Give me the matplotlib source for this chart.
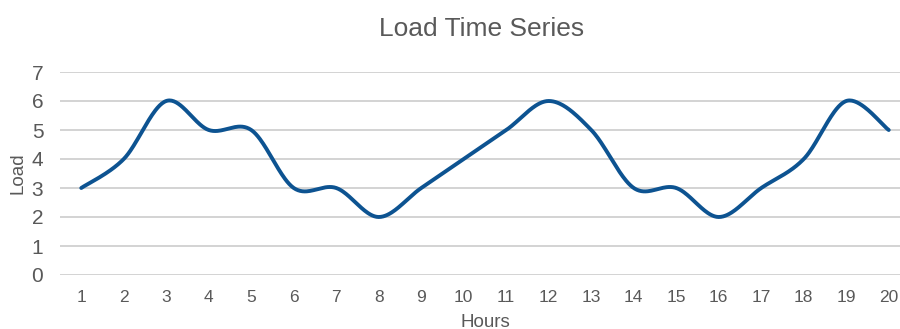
import numpy as np
import matplotlib
matplotlib.use("Agg")
import matplotlib.pyplot as plt

hours = list(range(1, 21))
load = [3, 4, 6, 5, 5, 3, 3, 2, 3, 4, 5, 6, 5, 3, 3, 2, 3, 4, 6, 5]
y_ticks = [0, 1, 2, 3, 4, 5, 6, 7]


def smooth_curve(x, y, steps=40):
    """Catmull-Rom style Bezier smoothing through every point."""
    x = np.asarray(x, float)
    y = np.asarray(y, float)
    px = np.concatenate([[x[0]], x, [x[-1]]])
    py = np.concatenate([[y[0]], y, [y[-1]]])
    xs, ys = [], []
    t = np.linspace(0, 1, steps)
    for i in range(1, len(px) - 2):
        p0 = np.array([px[i], py[i]])
        p3 = np.array([px[i + 1], py[i + 1]])
        c1 = p0 + (np.array([px[i + 1], py[i + 1]]) - np.array([px[i - 1], py[i - 1]])) / 6
        c2 = p3 - (np.array([px[i + 2], py[i + 2]]) - np.array([px[i], py[i]])) / 6
        b = ((1 - t) ** 3)[:, None] * p0 + (3 * (1 - t) ** 2 * t)[:, None] * c1 \
            + (3 * (1 - t) * t ** 2)[:, None] * c2 + (t ** 3)[:, None] * p3
        xs.append(b[:, 0])
        ys.append(b[:, 1])
    return np.concatenate(xs), np.concatenate(ys)


plt.rcParams['font.family'] = ['Liberation Sans', 'DejaVu Sans']
text_color = '#595959'

fig = plt.figure(figsize=(9.0, 3.29), dpi=100)
ax = fig.add_axes([60 / 900, 1 - 275 / 329, 850 / 900, 203 / 329])

sx, sy = smooth_curve(hours, load)
ax.plot(sx, sy, color='#0d5391', linewidth=2.8, solid_capstyle='round', zorder=3)

ax.set_xlim(0.5, 20.5)
ax.set_ylim(0, 7)
ax.set_yticks(y_ticks)
ax.set_xticks(hours)
ax.set_xticklabels([str(h) for h in hours])
ax.grid(axis='y', color='#d0d0d0', linewidth=1.3)
ax.set_axisbelow(True)
for s in ax.spines.values():
    s.set_visible(False)
ax.tick_params(axis='both', length=0, colors=text_color)
ax.tick_params(axis='y', labelsize=15, pad=12)
ax.tick_params(axis='x', labelsize=12.5, pad=11)
ax.set_xlabel('Hours', fontsize=13.5, color=text_color, labelpad=6)
ax.set_ylabel('Load', fontsize=13.5, color=text_color, labelpad=4)

fig.text(482 / 900, 1 - 29 / 329, 'Load Time Series', ha='center', va='center',
         fontsize=19, color=text_color)

fig.savefig('out.png', dpi=100)
